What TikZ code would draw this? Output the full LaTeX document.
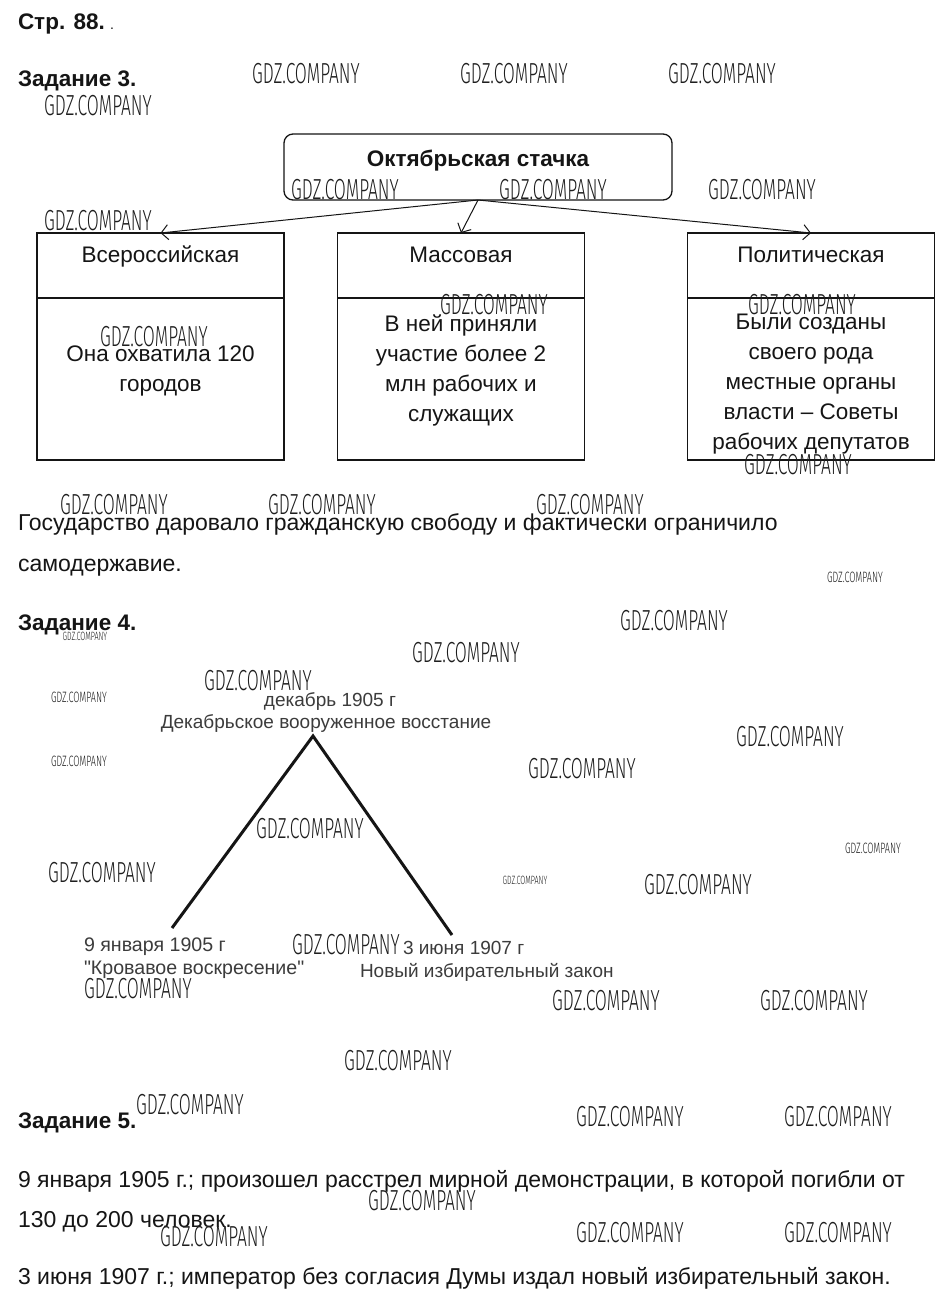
\documentclass[tikz,border=0pt]{standalone}
\usepackage{fontspec}
\setmainfont{Liberation Sans}
\newfontfamily\treefont[Ligatures=TeXOff]{Liberation Sans}
\newfontfamily\wmfont[FakeStretch=0.6]{Fira Sans Light}
\usetikzlibrary{arrows.meta}
\definecolor{ink}{HTML}{151515}
\definecolor{treeink}{HTML}{3C3C3C}
\definecolor{wmink}{HTML}{1E1E1E}
\begin{document}
\begin{tikzpicture}[x=1pt,y=-1pt,
  every node/.style={inner sep=0pt, outer sep=0pt},
  head/.style={anchor=base west, font=\bfseries\fontsize{22.5}{26}\selectfont, text=ink},
  body/.style={anchor=base west, font=\fontsize{23}{26}\selectfont, text=ink},
  boxtxt/.style={anchor=base, font=\fontsize{22.5}{26}\selectfont, text=ink},
  treetxt/.style={anchor=base west, font=\treefont\fontsize{19}{22}\selectfont, text=treeink},
  topbox/.style={draw=ink, line width=1.3pt, rounded corners=9pt, minimum width=388pt, minimum height=66pt},
  hdrbox/.style={draw=ink, line width=1.4pt, minimum width=247pt, minimum height=65pt},
  bodybox/.style={draw=ink, line width=1.4pt, minimum width=247pt, minimum height=162pt},
  link/.style={draw=ink, line width=1pt, -{Straight Barb[length=7pt,width=15pt,line width=1pt]}},
  leg/.style={draw=ink, line width=3pt},
  wm/.style={font=\wmfont\fontsize{29}{31}\selectfont, text=wmink},
  wms/.style={font=\wmfont\fontsize{15}{17}\selectfont, text=wmink},
  wmt/.style={font=\wmfont\fontsize{12}{13}\selectfont, text=wmink}]
\useasboundingbox (0,0) rectangle (940,1306);
\fill[white] (0,0) rectangle (940,1306);

% headings
\node[head] (p88) at (18,30) {Стр. 88.};
\node[body, font=\fontsize{14}{16}\selectfont] (dot) at (110,30) {.};
\node[head] (z3) at (18,86) {Задание 3.};

% Task 3 diagram
\node[topbox] (top) at (478,167) {};
\node[anchor=base, font=\bfseries\fontsize{22.5}{26}\selectfont, text=ink] (toptxt) at (478,166) {Октябрьская стачка};

\node[hdrbox] (h1) at (160.5,265.5) {};
\node[hdrbox] (h2) at (461,265.5) {};
\node[hdrbox] (h3) at (811,265.5) {};
\node[bodybox, anchor=north] (b1) at (h1.south) {};
\node[bodybox, anchor=north] (b2) at (h2.south) {};
\node[bodybox, anchor=north] (b3) at (h3.south) {};

\draw[link] (top.south) -- (h1.north);
\draw[link] (top.south) -- (h2.north);
\draw[link] (top.south) -- (h3.north);

\node[boxtxt] (t1) at (160.5,262) {Всероссийская};
\node[boxtxt] (t2) at (461,262) {Массовая};
\node[boxtxt] (t3) at (811,262) {Политическая};

\node[boxtxt] (t1a) at (160.5,361) {Она охватила 120};
\node[boxtxt] (t1b) at (160.5,391) {городов};

\node[boxtxt] (t2a) at (461,331) {В ней приняли};
\node[boxtxt] (t2b) at (461,361) {участие более 2};
\node[boxtxt] (t2c) at (461,391) {млн рабочих и};
\node[boxtxt] (t2d) at (461,421) {служащих};

\node[boxtxt] (t3a) at (811,329) {Были созданы};
\node[boxtxt] (t3b) at (811,359) {своего рода};
\node[boxtxt] (t3c) at (811,389) {местные органы};
\node[boxtxt] (t3d) at (811,419) {власти – Советы};
\node[boxtxt] (t3e) at (811,449) {рабочих депутатов};

\node[body] (c1) at (18,530) {Государство даровало гражданскую свободу и фактически ограничило};
\node[body] (c2) at (18,571) {самодержавие.};

% Task 4
\node[head] (z4) at (18,630) {Задание 4.};
\coordinate (apex) at (313,736);
\coordinate (lend) at (172,928);
\coordinate (rend) at (452,935);
\draw[leg] (lend) -- (apex) -- (rend);
\node[treetxt, anchor=base] (d1) at (330,706) {декабрь 1905 г};
\node[treetxt, anchor=base] (d2) at (326,728) {Декабрьское вооруженное восстание};
\node[treetxt, font=\treefont\fontsize{19.6}{22}\selectfont] (l1) at (84,951) {9 января 1905 г};
\node[treetxt, font=\treefont\fontsize{19.6}{22}\selectfont] (l2) at (84,974) {"Кровавое воскресение"};
\node[treetxt] (r1) at (403,954) {3 июня 1907 г};
\node[treetxt] (r2) at (360,977) {Новый избирательный закон};

% Task 5
\node[head] (z5) at (18,1128) {Задание 5.};
\node[body] (e1) at (18,1187) {9 января 1905 г.; произошел расстрел мирной демонстрации, в которой погибли от};
\node[body] (e2) at (18,1227) {130 до 200 человек.};
\node[body] (e3) at (18,1284) {3 июня 1907 г.; император без согласия Думы издал новый избирательный закон.};

% watermarks
\foreach \x/\y [count=\i] in {306/74,514/74,722/74,98/106,345/190,553/190,762/190,98/221,
  154/337,494/305,802/305,798/465,114/505,322/505,590/505,674/621,466/653,258/681,
  790/737,582/769,310/829,102/873,698/885,346/945,138/989,606/1001,814/1001,398/1061,
  190/1105,630/1117,838/1117,422/1201,214/1237,630/1233,838/1233}
  \node[wm] (wm\i) at (\x,\y) {GDZ.COMPANY};
\foreach \x/\y [count=\i] in {855/577,79/697,79/761,873/848}
  \node[wms] (wms\i) at (\x,\y) {GDZ.COMPANY};
\node[wmt] (wmt1) at (85,636) {GDZ.COMPANY};
\node[wmt] (wmt2) at (525,880) {GDZ.COMPANY};
\end{tikzpicture}
\end{document}
